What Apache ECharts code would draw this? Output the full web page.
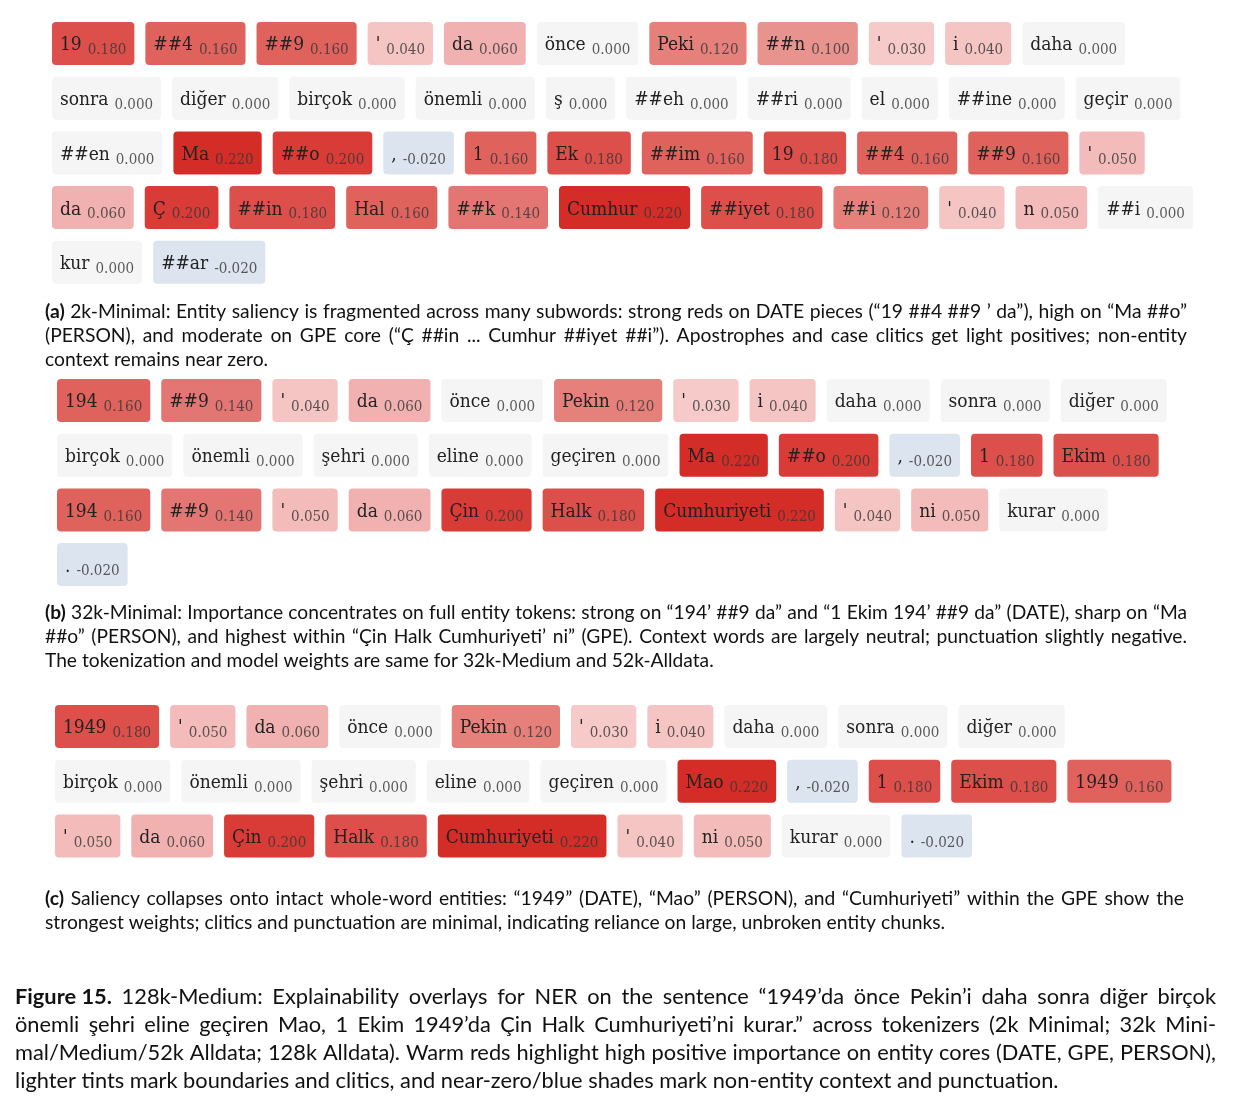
<!DOCTYPE html>
<html>
<head>
<meta charset="utf-8">
<script src="https://cdn.jsdelivr.net/npm/echarts@6/dist/echarts.min.js"></script>
<style>
  html, body { margin: 0; background: #fff; }
  #chart { width: 1233px; height: 1111px; }
</style>
</head>
<body>
<div id="chart"></div>
<script>
// -----------------------------
// DATA
// -----------------------------
const TOKENS_A = ['19', '##4', '##9', "'", 'da', 'önce', 'Peki', '##n', "'", 'i', 'daha',
  'sonra', 'diğer', 'birçok', 'önemli', 'ş', '##eh', '##ri', 'el', '##ine', 'geçir',
  '##en', 'Ma', '##o', ',', '1', 'Ek', '##im', '19', '##4', '##9', "'",
  'da', 'Ç', '##in', 'Hal', '##k', 'Cumhur', '##iyet', '##i', "'", 'n', '##i',
  'kur', '##ar'];
const VALUES_A = [0.18, 0.16, 0.16, 0.04, 0.06, 0, 0.12, 0.10, 0.03, 0.04, 0,
  0, 0, 0, 0, 0, 0, 0, 0, 0, 0,
  0, 0.22, 0.20, -0.02, 0.16, 0.18, 0.16, 0.18, 0.16, 0.16, 0.05,
  0.06, 0.20, 0.18, 0.16, 0.14, 0.22, 0.18, 0.12, 0.04, 0.05, 0,
  0, -0.02];

const TOKENS_B = ['194', '##9', "'", 'da', 'önce', 'Pekin', "'", 'i', 'daha', 'sonra', 'diğer',
  'birçok', 'önemli', 'şehri', 'eline', 'geçiren', 'Ma', '##o', ',', '1', 'Ekim',
  '194', '##9', "'", 'da', 'Çin', 'Halk', 'Cumhuriyeti', "'", 'ni', 'kurar',
  '.'];
const VALUES_B = [0.16, 0.14, 0.04, 0.06, 0, 0.12, 0.03, 0.04, 0, 0, 0,
  0, 0, 0, 0, 0, 0.22, 0.20, -0.02, 0.18, 0.18,
  0.16, 0.14, 0.05, 0.06, 0.20, 0.18, 0.22, 0.04, 0.05, 0,
  -0.02];

const TOKENS_C = ['1949', "'", 'da', 'önce', 'Pekin', "'", 'i', 'daha', 'sonra', 'diğer',
  'birçok', 'önemli', 'şehri', 'eline', 'geçiren', 'Mao', ',', '1', 'Ekim', '1949',
  "'", 'da', 'Çin', 'Halk', 'Cumhuriyeti', "'", 'ni', 'kurar', '.'];
const VALUES_C = [0.18, 0.05, 0.06, 0, 0.12, 0.03, 0.04, 0, 0, 0,
  0, 0, 0, 0, 0, 0.22, -0.02, 0.18, 0.18, 0.16,
  0.05, 0.06, 0.20, 0.18, 0.22, 0.04, 0.05, 0, -0.02];

// saliency colour scale, one stop every 0.02 from -0.02 to 0.22
const SCALE_MIN = -0.02;
const SCALE_MAX = 0.22;
const SCALE_COLORS = ['#dbe4ef', '#f5f5f5', '#f6cfce', '#f5c5c4', '#f1b1b0', '#eda3a0',
  '#e9938f', '#e5807b', '#e37673', '#e0625d', '#dc4f4a', '#d93c36', '#d42d27'];

const CAPTION_A = [
  ['(a)', '2k-Minimal: Entity saliency is fragmented across many subwords: strong reds on DATE pieces (“19 ##4 ##9 ’ da”), high on “Ma ##o”'],
  ['', '(PERSON), and moderate on GPE core (“Ç ##in ... Cumhur ##iyet ##i”). Apostrophes and case clitics get light positives; non-entity'],
  ['', 'context remains near zero.']
];
const CAPTION_B = [
  ['(b)', '32k-Minimal: Importance concentrates on full entity tokens: strong on “194’ ##9 da” and “1 Ekim 194’ ##9 da” (DATE), sharp on “Ma'],
  ['', '##o” (PERSON), and highest within “Çin Halk Cumhuriyeti’ ni” (GPE). Context words are largely neutral; punctuation slightly negative.'],
  ['', 'The tokenization and model weights are same for 32k-Medium and 52k-Alldata.']
];
const CAPTION_C = [
  ['(c)', 'Saliency collapses onto intact whole-word entities: “1949” (DATE), “Mao” (PERSON), and “Cumhuriyeti” within the GPE show the'],
  ['', 'strongest weights; clitics and punctuation are minimal, indicating reliance on large, unbroken entity chunks.']
];
const CAPTION_FIG = [
  ['Figure 15.', '128k-Medium: Explainability overlays for NER on the sentence “1949’da önce Pekin’i daha sonra diğer birçok'],
  ['', 'önemli şehri eline geçiren Mao, 1 Ekim 1949’da Çin Halk Cumhuriyeti’ni kurar.” across tokenizers (2k Minimal; 32k Mini-'],
  ['', 'mal/Medium/52k Alldata; 128k Alldata). Warm reds highlight high positive importance on entity cores (DATE, GPE, PERSON),'],
  ['', 'lighter tints mark boundaries and clitics, and near-zero/blue shades mark non-entity context and punctuation.']
];

// -----------------------------
// LAYOUT
// -----------------------------
const SERIF = "'DejaVu Serif Condensed', 'DejaVu Serif', serif";
const SANS = "Lato, 'Noto Sans', sans-serif";
const TOKEN_SIZE = 19;
const VALUE_SIZE = 15;
const PAD = 8;
const GAP = 6;
const CHIP_H = 43;
const CHIP_GAP = 11;
const ROW_PITCH = 54.7;

const measureCtx = document.createElement('canvas').getContext('2d');
function textWidth(text, size, family = SERIF, weight = 'normal') {
  measureCtx.font = weight + ' ' + size + 'px ' + family;
  return measureCtx.measureText(text).width;
}
const fmt = v => v.toFixed(3);

// simple flow layout: chips wrap like inline blocks inside [left, right]
function flow(tokens, values, left, top, right) {
  let x = left, y = top;
  return tokens.map((t, i) => {
    const tw = textWidth(t, TOKEN_SIZE);
    const w = PAD + tw + GAP + textWidth(fmt(values[i]), VALUE_SIZE) + PAD;
    if (x > left && x + w > right) {
      x = left;
      y += ROW_PITCH;
    }
    const box = { x, y, w, tw };
    x += w + CHIP_GAP;
    return box;
  });
}

const panels = [
  { tokens: TOKENS_A, values: VALUES_A, boxes: flow(TOKENS_A, VALUES_A, 52, 22, 1195) },
  { tokens: TOKENS_B, values: VALUES_B, boxes: flow(TOKENS_B, VALUES_B, 57, 379, 1185) },
  { tokens: TOKENS_C, values: VALUES_C, boxes: flow(TOKENS_C, VALUES_C, 55, 705, 1185) }
];

function renderChip(params, api) {
  const p = panels[params.seriesIndex];
  const i = api.value(0);
  const b = p.boxes[i];
  return {
    type: 'group',
    children: [
      {
        type: 'rect',
        shape: { x: b.x, y: b.y, width: b.w, height: CHIP_H, r: 4 },
        style: { fill: api.visual('color') }
      },
      {
        type: 'text',
        style: {
          text: p.tokens[i], x: b.x + PAD, y: b.y + 23.5,
          fontSize: TOKEN_SIZE, fontFamily: SERIF, fill: '#222',
          verticalAlign: 'middle'
        }
      },
      {
        type: 'text',
        style: {
          text: fmt(api.value(1)), x: b.x + PAD + b.tw + GAP, y: b.y + 28.5,
          fontSize: VALUE_SIZE, fontFamily: SERIF, fill: 'rgba(55,55,55,0.82)',
          verticalAlign: 'middle'
        }
      }
    ]
  };
}

// justified caption: lines but the last are stretched towards [left, right],
// word gaps capped so a short line does not look torn apart
function captionBlock(lines, left, right, y0, pitch, size) {
  const out = [];
  const space = textWidth(' ', size, SANS);
  lines.forEach((l, k) => {
    const words = [];
    if (l[0]) words.push({ t: l[0], weight: 'bold' });
    l[1].split(' ').forEach(t => words.push({ t, weight: 'normal' }));
    const widths = words.map(w => textWidth(w.t, size, SANS, w.weight));
    const total = widths.reduce((a, b) => a + b, 0);
    const last = k === lines.length - 1;
    const gap = last ? space : Math.min((right - left - total) / (words.length - 1), space * 1.8);
    let x = left;
    words.forEach((w, j) => {
      out.push({
        type: 'text',
        x: x,
        y: y0 + k * pitch,
        style: {
          text: w.t, fontFamily: SANS, fontSize: size, fontWeight: w.weight,
          fill: '#111', verticalAlign: 'middle'
        }
      });
      x += widths[j] + gap;
    });
  });
  return out;
}

// -----------------------------
// CHART
// -----------------------------
const chart = echarts.init(document.getElementById('chart'));

chart.setOption({
  animation: false,
  visualMap: {
    type: 'continuous',
    show: false,
    min: SCALE_MIN,
    max: SCALE_MAX,
    dimension: 1,
    seriesIndex: [0, 1, 2],
    inRange: { color: SCALE_COLORS }
  },
  series: panels.map((p, k) => ({
    type: 'custom',
    name: 'panel-' + 'abc'[k],
    coordinateSystem: 'none',
    renderItem: renderChip,
    data: p.values.map((v, i) => [i, v])
  })),
  graphic: [
    ...captionBlock(CAPTION_A, 45, 1187, 312, 24, 19.3),
    ...captionBlock(CAPTION_B, 45, 1187, 613, 24, 19.2),
    ...captionBlock(CAPTION_C, 45, 1184, 899, 24, 19.3),
    ...captionBlock(CAPTION_FIG, 15, 1216, 997, 28, 21.8)
  ]
});
</script>
</body>
</html>
